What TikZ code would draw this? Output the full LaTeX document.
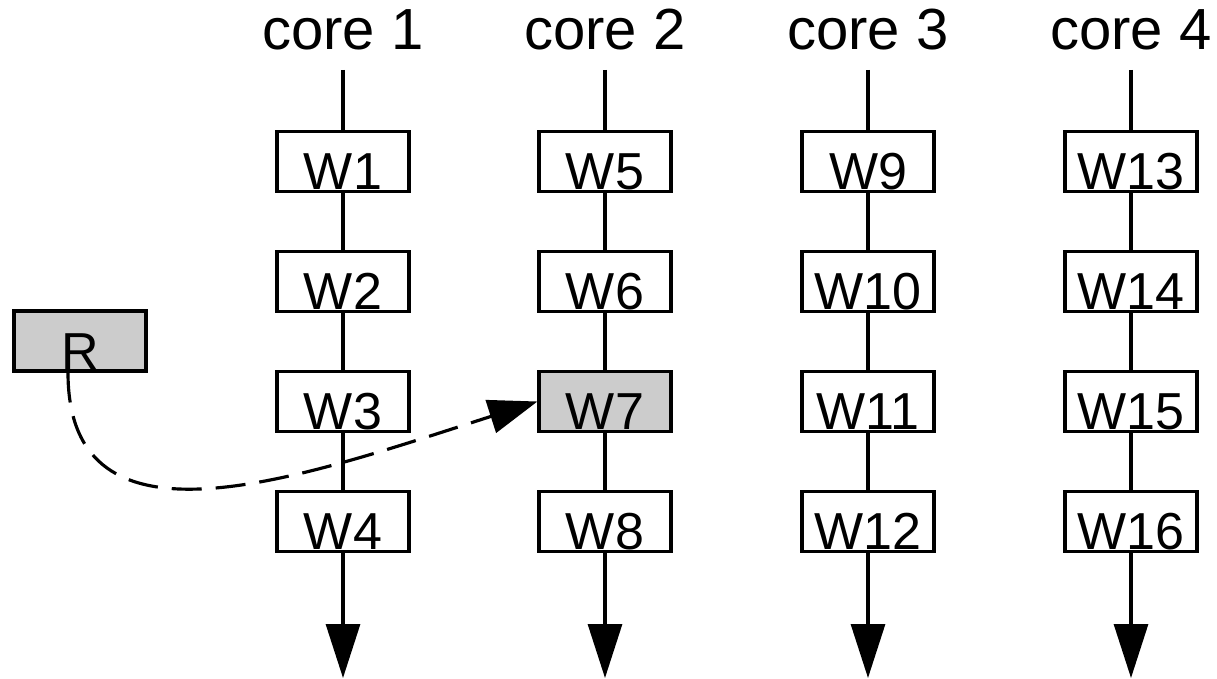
\documentclass[tikz,border=0pt]{standalone}
\usepackage{fontspec}
\setmainfont{Liberation Sans}
\usetikzlibrary{arrows.meta}

\begin{document}
\begin{tikzpicture}[
  wbox/.style={draw, rectangle, fill=white, line width=1.8pt, inner sep=0pt,
    minimum width=2.64cm, minimum height=1.2cm, text height=1.12cm, text depth=0pt,
    font=\fontsize{29.6}{34}\selectfont},
  corelabel/.style={anchor=base, font=\fontsize{33}{38}\selectfont},
  flow/.style={line width=1.8pt, -{Triangle[width=0.68cm,length=1.08cm]}}
]
\useasboundingbox (0,0) rectangle (24.34,13.56);

% column headers
\node[corelabel] (core1) at (6.86,12.56) {core 1};
\node[corelabel] (core2) at (12.10,12.56) {core 2};
\node[corelabel] (core3) at (17.36,12.56) {core 3};
\node[corelabel] (core4) at (22.62,12.56) {core 4};

% core 1
\node[wbox] (w1) at (6.86,10.33) {W1};
\node[wbox] (w2) at (6.86,7.93) {W2};
\node[wbox] (w3) at (6.86,5.53) {W3};
\node[wbox] (w4) at (6.86,3.13) {W4};

% core 2
\node[wbox] (w5) at (12.10,10.33) {W5};
\node[wbox] (w6) at (12.10,7.93) {W6};
\node[wbox, fill=gray!40] (w7) at (12.10,5.53) {W7};
\node[wbox] (w8) at (12.10,3.13) {W8};

% core 3
\node[wbox] (w9) at (17.36,10.33) {W9};
\node[wbox] (w10) at (17.36,7.93) {W10};
\node[wbox] (w11) at (17.36,5.53) {W11};
\node[wbox] (w12) at (17.36,3.13) {W12};

% core 4
\node[wbox] (w13) at (22.62,10.33) {W13};
\node[wbox] (w14) at (22.62,7.93) {W14};
\node[wbox] (w15) at (22.62,5.53) {W15};
\node[wbox] (w16) at (22.62,3.13) {W16};

\node[wbox, fill=gray!40] (r) at (1.6,6.74) {R};

% time lines
\coordinate (top1) at (6.86,12.16);  \coordinate (end1) at (6.86,0);
\coordinate (top2) at (12.10,12.16); \coordinate (end2) at (12.10,0);
\coordinate (top3) at (17.36,12.16); \coordinate (end3) at (17.36,0);
\coordinate (top4) at (22.62,12.16); \coordinate (end4) at (22.62,0);

\draw[flow] (top1) -- (w1) -- (w2) -- (w3) -- (w4) -- (end1);
\draw[flow] (top2) -- (w5) -- (w6) -- (w7) -- (w8) -- (end2);
\draw[flow] (top3) -- (w9) -- (w10) -- (w11) -- (w12) -- (end3);
\draw[flow] (top4) -- (w13) -- (w14) -- (w15) -- (w16) -- (end4);

% R moves over to core 2
\draw[line width=1.8pt, dash pattern=on 0.6cm off 0.28cm,
      -{Triangle[width=0.68cm,length=0.98cm]}]
  ([xshift=-0.24cm]r.south) .. controls +(0,-3.78) and +(-4.8,-1.54) .. (w7.west);
\end{tikzpicture}
\end{document}
